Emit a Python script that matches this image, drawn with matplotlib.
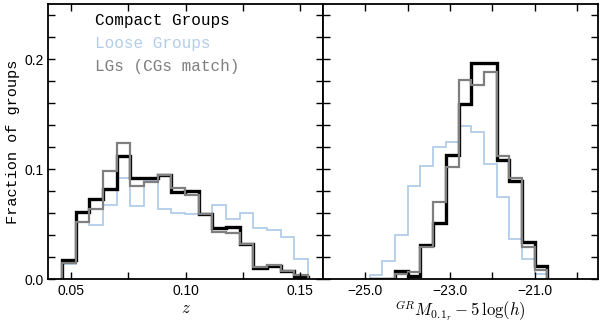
import numpy as np
import matplotlib.pyplot as plt
from matplotlib.ticker import MultipleLocator, FixedLocator

plt.rcParams['mathtext.fontset'] = 'cm'

# redshift histograms (18 bins)
z_edges = np.linspace(0.046, 0.1535, 19)
z_cg = [0.017, 0.061, 0.073, 0.082, 0.112, 0.092, 0.092, 0.0945, 0.079, 0.080,
        0.059, 0.046, 0.047, 0.032, 0.010, 0.012, 0.007, 0.002]
z_lg = [0.014, 0.052, 0.049, 0.067, 0.092, 0.066, 0.090, 0.064, 0.060, 0.059,
        0.058, 0.067, 0.055, 0.060, 0.046, 0.045, 0.038, 0.018]
z_lgm = [0.015, 0.052, 0.064, 0.098, 0.124, 0.085, 0.088, 0.095, 0.083, 0.076,
         0.059, 0.043, 0.042, 0.032, 0.011, 0.013, 0.0075, 0.004]

# magnitude histograms (14 bins)
m_edges = np.linspace(-24.9, -20.7, 15)
m_cg = [0.0, 0.0, 0.007, 0.003, 0.031, 0.051, 0.113, 0.159, 0.196, 0.196,
        0.108, 0.089, 0.034, 0.012]
m_lg = [0.004, 0.016, 0.040, 0.085, 0.103, 0.120, 0.125, 0.139, 0.134, 0.105,
        0.075, 0.036, 0.018, 0.005]
m_lgm = [0.0, 0.0, 0.005, 0.006, 0.029, 0.070, 0.102, 0.181, 0.176, 0.188,
         0.112, 0.092, 0.029, 0.008]

c_cg = 'black'
c_lg = '#b3cde9'
c_lgm = '#7f7f7f'

fig = plt.figure(figsize=(6, 3.22), dpi=100)
ax1 = fig.add_axes([0.0805, 0.1335, 0.4578, 0.854])
ax2 = fig.add_axes([0.5383, 0.1335, 0.4588, 0.854])

for ax, edges, cg, lg, lgm in [(ax1, z_edges, z_cg, z_lg, z_lgm),
                               (ax2, m_edges, m_cg, m_lg, m_lgm)]:
    ax.stairs(lg, edges, color=c_lg, lw=1.3, baseline=0)
    ax.stairs(cg, edges, color=c_cg, lw=2.4, baseline=0)
    ax.stairs(lgm, edges, color=c_lgm, lw=1.6, baseline=0)
    ax.set_ylim(0, 0.25)
    ax.yaxis.set_major_locator(MultipleLocator(0.1))
    ax.yaxis.set_minor_locator(MultipleLocator(0.02))
    ax.tick_params(which='both', direction='in', top=True, right=True,
                   length=5, width=1, labelsize=10)
    for s in ax.spines.values():
        s.set_linewidth(1.3)

ax1.set_xlim(0.04, 0.16)
ax1.xaxis.set_major_locator(FixedLocator([0.05, 0.10, 0.15]))
ax1.xaxis.set_minor_locator(MultipleLocator(0.025))
ax1.set_xticklabels(['0.05', '0.10', '0.15'], family='Liberation Sans')
ax1.set_yticks([0.0, 0.1, 0.2])
ax1.set_yticklabels(['0.0', '0.1', '0.2'], family='Liberation Sans')
ax1.set_xlabel(r'$z$', fontsize=12, labelpad=1)
ax1.set_ylabel('Fraction of groups', family='Liberation Mono', fontsize=11,
               labelpad=3)

ax2.set_xlim(-26, -19.5)
ax2.xaxis.set_major_locator(FixedLocator([-25, -23, -21]))
ax2.xaxis.set_minor_locator(FixedLocator([-24, -22, -20]))
ax2.set_xticklabels(['\u221225.0', '\u221223.0', '\u221221.0'],
                    family='Liberation Sans')
ax2.set_yticklabels([])
ax2.set_xlabel(r'${}^{GR}M_{0.1_r} - 5\,\log(h)$', fontsize=12, labelpad=1)

# legend as coloured text
labels = ['Compact Groups', 'Loose Groups', 'LGs (CGs match)']
colors = [c_cg, c_lg, c_lgm]
for i, (t, c) in enumerate(zip(labels, colors)):
    ax1.text(0.17, 0.94 - i * 0.083, t, transform=ax1.transAxes, color=c,
             family='Liberation Mono', fontsize=11.5, va='center', ha='left')

fig.savefig('out.png', dpi=100)
